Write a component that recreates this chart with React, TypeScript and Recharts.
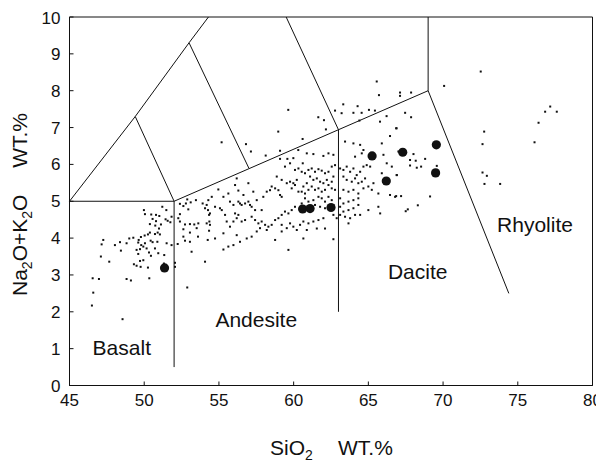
import {
  ScatterChart,
  Scatter,
  XAxis,
  YAxis,
  ReferenceLine,
  ReferenceArea,
} from "recharts";

const FONT = '"Liberation Sans", Arial, Helvetica, sans-serif';
const INK = "#111";

const xTicks = [45, 50, 55, 60, 65, 70, 75, 80];
const yTicks = [0, 1, 2, 3, 4, 5, 6, 7, 8, 9, 10];

// TAS field boundaries (SiO2, Na2O+K2O)
const boundaries: number[][][] = [
  [[45, 5], [49.4, 7.3], [53, 9.3], [54.3, 10]],
  [[45, 5], [52, 5]],
  [[49.4, 7.3], [52, 5]],
  [[53, 9.3], [57, 5.9]],
  [[59.5, 10], [63, 6.94]],
  [[52, 5], [69, 8]],
  [[52, 0.5], [52, 5]],
  [[63, 2], [63, 6.94]],
  [[69, 8], [69, 10]],
  [[69, 8], [74.4, 2.5]],
];

const fieldNames = ["Basalt", "Andesite", "Dacite", "Rhyolite"];
const fieldX = [48.5, 57.5, 68.3, 76.15];
const fieldY = [1.02, 1.8, 3.1, 4.36];

// samples, large symbols
const largeSamples = [
  [51.36, 3.19], [60.6, 4.79], [61.1, 4.8], [62.5, 4.83], [65.25, 6.23],
  [66.2, 5.55], [67.3, 6.33], [69.55, 6.53], [69.5, 5.77],
];

// compiled data, basalt side
const basaltPts = [
  [49.98, 4.76], [50.05, 4.65], [50.47, 4.64], [50.79, 4.63], [51.01, 4.6], [51.21, 4.85], [51.48, 4.76],
  [50.56, 4.52], [50.79, 4.46], [51.12, 4.37], [51.43, 4.51], [51.57, 4.47], [51.75, 4.43], [50.38, 4.38],
  [50.74, 4.34], [50.99, 4.26], [50.9, 4.15], [51.05, 4.1], [50.72, 4.11], [50.38, 4.15], [50.25, 4.1],
  [50.03, 4.07], [49.78, 4.03], [49.63, 3.95], [49.27, 4.01], [49.0, 3.99], [48.82, 3.86], [48.38, 3.89],
  [48.04, 3.81], [47.26, 3.95], [47.15, 3.83], [47.1, 3.5], [47.66, 3.36], [48.44, 3.66], [49.6, 3.88],
  [49.8, 3.81], [50.05, 3.86], [50.43, 3.93], [50.56, 3.89], [50.88, 3.9], [49.72, 3.7], [49.94, 3.77],
  [50.16, 3.72], [49.49, 3.68], [49.6, 3.57], [49.72, 3.38], [49.94, 3.4], [49.31, 3.29], [49.49, 3.25],
  [49.76, 3.22], [50.32, 3.61], [50.45, 3.52], [50.72, 3.72], [50.94, 3.59], [51.34, 3.54], [51.5, 3.86],
  [51.83, 3.81], [51.32, 3.31], [50.25, 3.2], [50.34, 2.91], [48.82, 2.89], [49.11, 2.85], [46.55, 2.91],
  [46.97, 2.89], [46.59, 2.52], [46.5, 2.17], [48.55, 1.8], [51.83, 4.58],
];

const andesiteLowPts = [
  [52.39, 4.93], [52.62, 4.87], [52.79, 4.94], [52.88, 5.05], [52.95, 4.78], [53.11, 4.97], [53.46, 5.03],
  [53.91, 4.94], [54.18, 4.9], [54.07, 4.81], [54.27, 4.76], [54.4, 4.67], [52.39, 4.65], [52.28, 4.54],
  [52.39, 4.45], [52.73, 4.37], [53.06, 4.38], [53.35, 4.37], [53.62, 4.4], [54.18, 4.4], [54.36, 4.45],
  [52.62, 4.24], [52.62, 4.04], [53.06, 4.15], [53.51, 4.27], [53.6, 4.04], [53.06, 3.9], [52.73, 3.93],
  [52.24, 3.84], [53.17, 3.63], [54.07, 3.36], [52.06, 3.33], [52.06, 3.22], [52.88, 2.66],
];

const andesitePts = [
  [54.96, 5.32], [54.52, 5.12], [54.29, 5.03], [54.34, 4.63], [54.4, 4.36], [54.34, 4.2], [54.25, 3.95],
  [54.74, 4.85], [55.07, 4.81], [55.19, 4.76], [55.3, 5.12], [55.63, 5.21], [56.08, 5.44], [56.19, 5.62],
  [56.3, 5.29], [55.74, 4.99], [55.97, 4.9], [56.3, 4.99], [56.41, 4.94], [56.52, 4.9], [56.75, 4.94],
  [56.97, 4.99], [57.08, 4.9], [56.64, 5.17], [56.97, 5.49], [57.3, 5.26], [57.19, 4.85], [57.42, 4.76],
  [57.53, 5.03], [57.86, 4.76], [57.97, 5.12], [58.2, 5.26], [58.42, 5.3], [58.53, 5.4], [58.76, 5.35],
  [58.98, 5.3], [59.09, 5.17], [59.2, 5.12], [59.54, 5.49], [59.76, 5.53], [59.98, 5.49], [60.09, 5.44],
  [60.21, 5.58], [59.87, 5.35], [60.32, 5.26], [58.87, 5.67], [59.2, 5.58], [59.42, 5.94], [59.76, 6.03],
  [60.09, 5.85], [60.32, 5.89], [56.08, 4.67], [56.3, 4.63], [56.19, 4.54], [55.97, 4.45], [55.52, 4.45],
  [55.41, 4.63], [55.74, 4.31], [56.52, 4.45], [56.75, 4.49], [57.19, 4.58], [57.42, 4.49], [57.64, 4.4],
  [57.86, 4.45], [58.09, 4.36], [58.31, 4.31], [58.53, 4.36], [58.76, 4.49], [58.98, 4.54], [59.2, 4.63],
  [59.42, 4.72], [59.65, 4.67], [59.87, 4.76], [60.09, 4.85], [58.2, 4.22], [57.75, 4.27], [57.53, 4.18],
  [57.19, 4.04], [56.86, 3.99], [56.41, 3.9], [56.19, 4.08], [55.97, 3.81], [55.63, 3.77], [55.3, 3.69],
  [54.74, 3.99], [55.3, 4.13], [58.76, 3.95], [59.2, 4.18], [59.54, 4.27], [59.76, 4.4], [59.98, 4.31],
  [60.21, 4.22], [60.43, 4.36], [59.2, 4.36], [59.65, 3.68],
];

const daciteLowPts = [
  [60.88, 6.3], [61.32, 6.28], [61.99, 6.23], [62.33, 6.3], [62.66, 6.26], [60.61, 6.03], [60.54, 5.8],
  [60.76, 5.76], [60.99, 5.85], [61.21, 5.89], [61.43, 5.8], [61.66, 5.87], [61.88, 5.83], [62.1, 5.76],
  [62.33, 5.8], [62.55, 5.94], [62.77, 5.98], [62.66, 5.67], [62.55, 5.53], [62.22, 5.58], [61.99, 5.49],
  [61.77, 5.53], [61.55, 5.62], [61.32, 5.58], [61.1, 5.67], [60.88, 5.49], [60.65, 5.4], [60.54, 5.26],
  [60.76, 5.21], [60.99, 5.31], [61.21, 5.4], [61.43, 5.31], [61.66, 5.35], [61.88, 5.26], [62.1, 5.31],
  [62.33, 5.44], [62.55, 5.35], [62.77, 5.31], [60.76, 5.08], [60.99, 4.99], [61.32, 5.03], [61.66, 5.12],
  [61.88, 5.08], [62.1, 4.99], [62.33, 5.12], [62.55, 5.03], [60.54, 4.94], [61.43, 4.9], [61.77, 4.85],
  [62.1, 4.81], [62.66, 4.9], [63.11, 5.89], [63.33, 5.85], [63.55, 5.94], [63.78, 5.8], [64.0, 5.89],
  [64.22, 5.71], [64.45, 5.8], [64.67, 5.94], [64.89, 5.98], [65.12, 5.94], [63.33, 5.67], [63.55, 5.58],
  [63.89, 5.53], [64.11, 5.62], [64.33, 5.49], [64.56, 5.53], [64.78, 5.62], [63.33, 5.31], [63.67, 5.26],
  [64.0, 5.31], [64.33, 5.21], [64.67, 5.35], [65.0, 5.4], [65.23, 5.31], [63.11, 5.08], [63.33, 4.94],
  [63.67, 4.99], [64.0, 5.03], [64.33, 5.08], [63.11, 4.85], [63.33, 4.72], [63.67, 4.76], [64.0, 4.81],
  [64.45, 4.63], [64.11, 4.63], [63.44, 4.58], [63.11, 4.63], [62.88, 4.54], [62.66, 4.63], [61.99, 4.54],
  [61.66, 4.49], [61.32, 4.45], [60.99, 4.4], [60.65, 4.45], [60.88, 4.22], [61.55, 4.26], [62.1, 4.26],
  [63.67, 4.4], [60.65, 3.99], [62.66, 3.97], [64.56, 6.3], [64.11, 6.21], [64.67, 6.39], [63.44, 6.62],
  [64.0, 6.57], [64.45, 6.53], [65.23, 6.3], [65.9, 6.57], [66.01, 6.26], [66.23, 6.03], [66.57, 5.94],
  [66.9, 5.71], [65.9, 5.76], [65.34, 5.49], [65.67, 5.21], [66.45, 5.17], [66.79, 5.12], [65.0, 4.76],
  [65.79, 4.67], [65.67, 4.85], [64.33, 4.9], [63.78, 4.54],
];

const daciteHighPts = [
  [67.12, 7.95], [67.86, 7.95], [67.12, 7.86], [67.46, 7.4], [67.86, 7.28], [66.86, 6.98], [67.01, 6.35],
  [68.02, 6.28], [67.79, 6.12], [68.17, 6.1], [68.8, 6.15], [67.79, 5.97], [68.24, 5.91], [68.53, 5.94],
  [69.58, 5.96], [66.9, 5.71], [66.86, 5.14], [67.19, 5.14], [69.13, 5.13], [68.31, 4.89], [67.64, 4.78],
  [67.5, 4.73], [65.56, 8.25], [65.71, 7.88],
];

const rhyolitePts = [
  [72.75, 6.89], [72.64, 6.55], [72.64, 5.78], [72.93, 5.69], [72.77, 5.47], [73.82, 5.47], [77.17, 7.57],
  [76.83, 7.43], [77.61, 7.43], [76.39, 7.13], [76.12, 6.6], [72.52, 8.52], [70.07, 8.13],
];

const trachytePts = [
  [63.32, 7.63], [64.28, 7.58], [65.04, 7.48], [65.44, 7.46], [64.55, 7.4], [64.0, 7.4], [63.21, 7.39],
  [62.77, 7.46], [64.4, 7.19], [65.78, 7.16], [66.22, 7.31], [59.64, 7.48], [61.65, 7.28], [62.03, 7.2],
  [62.16, 6.95], [58.97, 6.89], [60.6, 6.69], [55.18, 6.6], [56.81, 6.55], [57.14, 6.35], [58.13, 6.24],
  [59.09, 6.37], [60.31, 6.39], [66.45, 6.77], [66.89, 6.98], [59.09, 6.15], [59.58, 6.15], [59.98, 6.17],
];

const smallPts = [
  ...basaltPts,
  ...andesiteLowPts,
  ...andesitePts,
  ...daciteLowPts,
  ...daciteHighPts,
  ...rhyolitePts,
  ...trachytePts,
].map(([x, y]) => ({ x, y }));

const largePts = largeSamples.map(([x, y]) => ({ x, y }));
const labelPts = fieldNames.map((name, i) => ({ x: fieldX[i], y: fieldY[i], name }));

const SmallDot = (p: any) => (
  <rect x={p.cx - 1} y={p.cy - 1} width={2} height={2} fill={INK} />
);
const BigDot = (p: any) => <circle cx={p.cx} cy={p.cy} r={4.6} fill={INK} />;
const FieldLabel = (p: any) => (
  <text
    x={p.cx}
    y={p.cy}
    dy="0.36em"
    textAnchor="middle"
    fontFamily={FONT}
    fontSize={21}
    fill={INK}
  >
    {p.payload.name}
  </text>
);

const XTitle = () => (
  <g fontFamily={FONT} fontSize={21} fill={INK}>
    <text x={262} y={447}>
      SiO<tspan fontSize={14} dy={5}>2</tspan>
    </text>
    <text x={330} y={447}>WT.%</text>
  </g>
);

const YTitle = () => (
  <g fontFamily={FONT} fontSize={21} fill={INK}>
    <text x={19} y={288} transform="rotate(-90, 19, 288)">
      Na<tspan fontSize={14} dy={5}>2</tspan>
      <tspan dy={-5}>O+K</tspan>
      <tspan fontSize={14} dy={5}>2</tspan>
      <tspan dy={-5}>O</tspan>
    </text>
    <text x={19} y={105} textAnchor="end" transform="rotate(-90, 19, 105)">
      WT.%
    </text>
  </g>
);

export default function App() {
  return (
    <ScatterChart
      width={596}
      height={460}
      margin={{ top: 9, right: 11.5, left: 0, bottom: 52.5 }}
    >
      <XAxis
        type="number"
        dataKey="x"
        domain={[45, 80]}
        ticks={xTicks}
        allowDataOverflow
        height={30}
        stroke={INK}
        tickSize={-4}
        tickMargin={12}
        tick={{ fontSize: 17, fill: INK, fontFamily: FONT }}
        label={XTitle}
      />
      <YAxis
        type="number"
        dataKey="y"
        domain={[0, 10]}
        ticks={yTicks}
        allowDataOverflow
        width={61.5}
        stroke={INK}
        tickSize={-4}
        tickMargin={13}
        tick={{ fontSize: 17, fill: INK, fontFamily: FONT }}
        label={YTitle}
      />
      <ReferenceArea x1={45} x2={80} y1={0} y2={10} fill="none" stroke={INK} strokeWidth={1} />
      {boundaries.map((line, i) =>
        line.slice(1).map((pt, j) => (
          <ReferenceLine
            key={`b-${i}-${j}`}
            segment={[
              { x: line[j][0], y: line[j][1] },
              { x: pt[0], y: pt[1] },
            ]}
            stroke={INK}
            strokeWidth={1}
          />
        ))
      )}
      <Scatter data={smallPts} shape={SmallDot} isAnimationActive={false} />
      <Scatter data={largePts} shape={BigDot} isAnimationActive={false} />
      <Scatter data={labelPts} shape={FieldLabel} isAnimationActive={false} />
    </ScatterChart>
  );
}
